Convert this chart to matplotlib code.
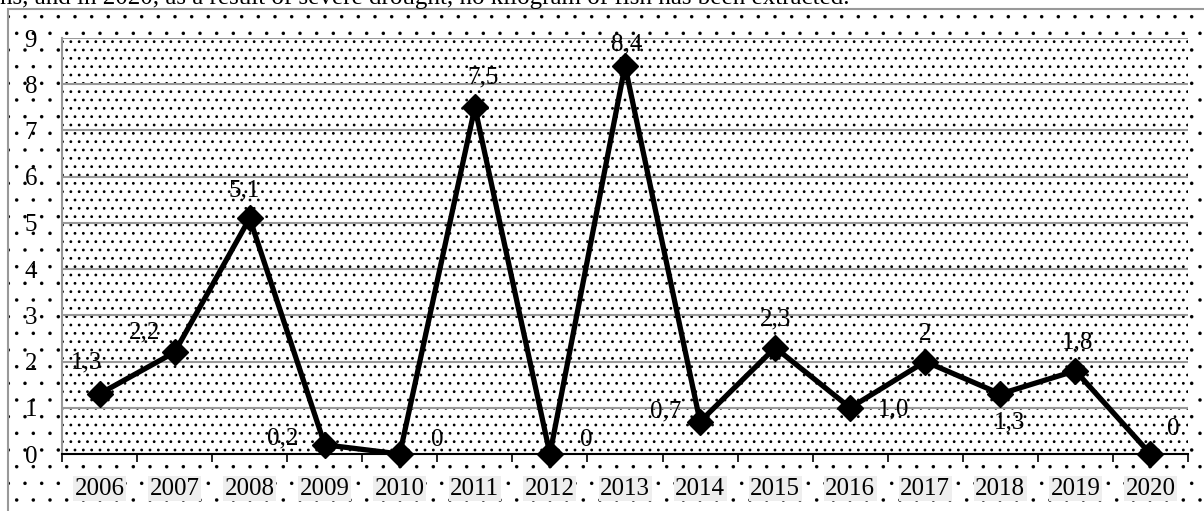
import numpy as np
import matplotlib as mpl
import matplotlib.pyplot as plt
from matplotlib.patches import Rectangle

plt.rcParams['font.family'] = ['Liberation Serif', 'DejaVu Serif']

years = ['2006', '2007', '2008', '2009', '2010', '2011', '2012', '2013',
         '2014', '2015', '2016', '2017', '2018', '2019', '2020']
catch = [1.3, 2.2, 5.1, 0.2, 0, 7.5, 0, 8.4, 0.7, 2.3, 1.0, 2, 1.3, 1.8, 0]
point_labels = ['1,3', '2,2', '5,1', '0,2', '0', '7,5', '0', '8,4',
                '0,7', '2,3', '1,0', '2', '1,3', '1,8', '0']
# label offsets in pixels (dx, dy up)
label_offsets = [(-13, 31), (-30, 20), (-5, 28), (-42, 6), (37, 14), (8, 30),
                 (36, 14), (2, 21), (-34, 10), (0, 28), (43, -2), (0, 28),
                 (9, -29), (2, 28), (23, 25)]

W, H = 1204, 511
dpi = 100
fig = plt.figure(figsize=(W / dpi, H / dpi), dpi=dpi)
px = 72.0 / dpi  # pixel -> points


def dotted(xy, w, h, hatch, lw, **kw):
    with mpl.rc_context({'hatch.linewidth': lw}):
        p = Rectangle(xy, w, h, facecolor='white', edgecolor='black',
                      hatch=hatch, linewidth=0, **kw)
    if hasattr(p, 'set_hatch_linewidth'):
        p.set_hatch_linewidth(lw)
    return p


# partly cut-off sentence above the chart
fig.text(0.0, 1 - 4 / H,
         'ns, and in 2020, as a result of severe drought, no kilogram of fish has been extracted.',
         fontsize=18, va='baseline', ha='left')

# outer chart area with sparse dots
fig.patches.append(dotted((8 / W, -0.2), 1.2, (H - 9) / H + 0.2, '.', 0.1,
                          transform=fig.transFigure, zorder=-2))
fig.patches.append(Rectangle((8 / W, -0.2), 1.2, (H - 9) / H + 0.2,
                             transform=fig.transFigure, facecolor='none',
                             edgecolor='#999999', linewidth=1.5, zorder=-1))

left, right, top, bottom = 62, 1188, 38, 454
ax = fig.add_axes([left / W, (H - bottom) / H, (right - left) / W, (bottom - top) / H])
ax.set_facecolor('none')
ax.add_patch(dotted((0, 0), 1, 1, '..', 0.8, transform=ax.transAxes, zorder=0))

x = np.arange(len(years))
ax.set_xlim(-0.5, len(years) - 0.5)
ax.set_ylim(0, 9)
ax.set_yticks(range(10))
ax.grid(axis='y', color='#999999', linewidth=1.5, zorder=1)
ax.set_axisbelow(True)

ax.plot(x, catch, color='black', linewidth=3.8, marker='D', markersize=13.5,
        zorder=3, clip_on=False)

for xi, yi, lab, (dx, dy) in zip(x, catch, point_labels, label_offsets):
    ax.annotate(lab, (xi, yi), xytext=(dx * px, dy * px), textcoords='offset points',
                ha='center', va='center', fontsize=18, zorder=4)

ax.set_xticks(x)
ax.set_xticklabels(years)
ax.set_xticks(np.arange(-0.5, len(years)), minor=True)
ax.tick_params(axis='x', which='major', length=0, pad=17, labelsize=18)
ax.tick_params(axis='x', which='minor', length=6, width=1.2, direction='out')
for t in ax.get_xticklabels():
    t.set_bbox(dict(facecolor='#eeeeee', edgecolor='none', pad=1))
ax.tick_params(axis='y', length=0, pad=18, labelsize=18)

ax.spines['top'].set_visible(False)
ax.spines['right'].set_visible(False)
ax.spines['left'].set_color('#999999')
ax.spines['left'].set_linewidth(1.5)
ax.spines['bottom'].set_color('black')
ax.spines['bottom'].set_linewidth(1.5)

fig.savefig('out.png', dpi=dpi)
